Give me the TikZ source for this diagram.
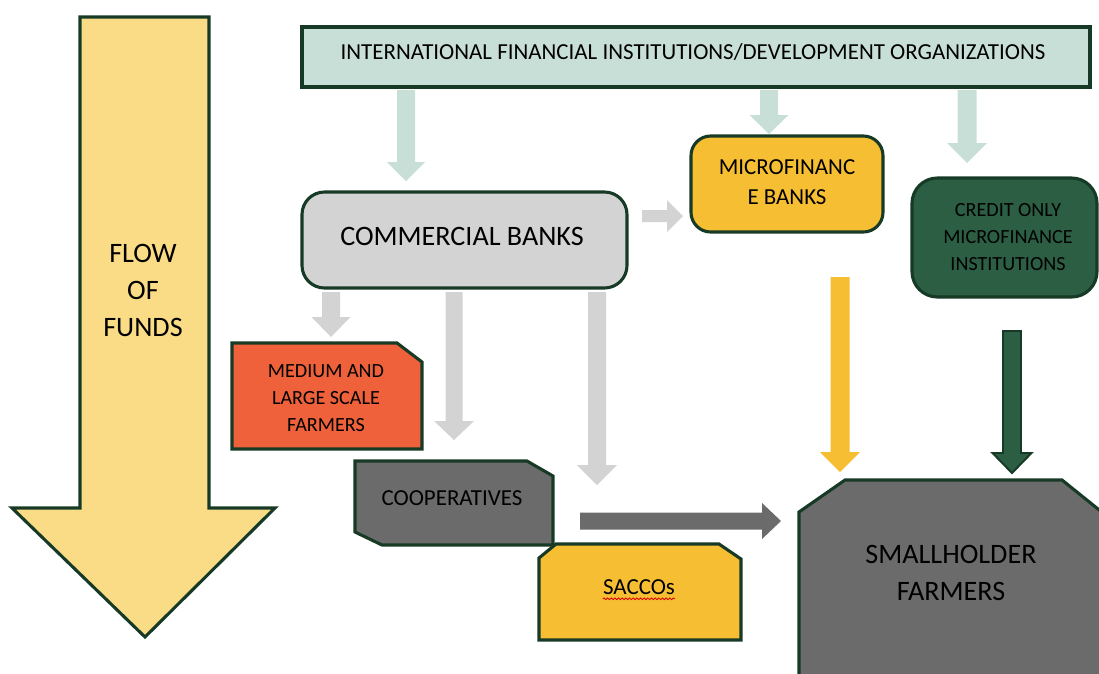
\documentclass[tikz,border=0pt]{standalone}
\usepackage{fontspec}
\setmainfont{Carlito}
\usetikzlibrary{calc,decorations.pathmorphing}

\definecolor{edge}{HTML}{173A26}
\definecolor{mint}{HTML}{C8DFD7}
\definecolor{lightgray}{HTML}{D3D3D3}
\definecolor{gold}{HTML}{F6BE33}
\definecolor{pale}{HTML}{FADC86}
\definecolor{forest}{HTML}{2B5E42}
\definecolor{slate}{HTML}{6B6B6B}
\definecolor{tomato}{HTML}{EE613B}

% block arrow pointing down: start, tip, shaft half-width, head half-width, head length, style
\newcommand{\vblock}[6]{%
  \path[#6] ($(#1)+(-#3,0)$) -- ($(#1)+(#3,0)$) -- ($(#2)+(#3,-#5)$) -- ($(#2)+(#4,-#5)$)
    -- (#2) -- ($(#2)+(-#4,-#5)$) -- ($(#2)+(-#3,-#5)$) -- cycle;}
% block arrow pointing right: start, tip, shaft half-width, head half-width, head length, style
\newcommand{\hblock}[6]{%
  \path[#6] ($(#1)+(0,-#3)$) -- ($(#2)+(-#5,-#3)$) -- ($(#2)+(-#5,-#4)$) -- (#2)
    -- ($(#2)+(-#5,#4)$) -- ($(#2)+(-#5,#3)$) -- ($(#1)+(0,#3)$) -- cycle;}

\begin{document}
\begin{tikzpicture}[x=0.025cm,y=-0.025cm,
  box/.style={draw=edge,line width=2.2pt},
  label/.style={inner sep=0pt,align=center,text=black},
  big/.style={font=\fontsize{20}{26.3}\selectfont},
  mid/.style={font=\fontsize{16.3}{21.3}\selectfont},
  small/.style={font=\fontsize{14.3}{19}\selectfont},
  arrowfill/.style={fill=#1,draw=none}]
\useasboundingbox (0,0) rectangle (1099,673);
\clip (0,0) rectangle (1099,673);

% flow of funds arrow
\path[box,fill=pale,line join=miter] (80,17) -- (209,17) -- (209,508) -- (275,508) -- (145,637)
  -- (12,508) -- (80,508) -- cycle;
\node[label,big] (flow) at (143,290) {FLOW\\OF\\FUNDS};

% institutions
\path[box,fill=mint] (302,27) rectangle (1090,87);
\node[label,mid] (ifi) at (693,52) {INTERNATIONAL FINANCIAL INSTITUTIONS/DEVELOPMENT ORGANIZATIONS};

\path[box,fill=lightgray,rounded corners=16] (302,192) rectangle (627,288);
\node[label,big] (cb) at (462,236) {COMMERCIAL BANKS};

\path[box,fill=gold,rounded corners=14] (691,136) rectangle (883,232);
\node[label,mid] (mfb) at (787,182) {MICROFINANC\\E BANKS};

\path[box,fill=forest,rounded corners=18] (912,178) rectangle (1097,297);
\node[label,small] (cmfi) at (1008,237) {CREDIT ONLY\\MICROFINANCE\\INSTITUTIONS};

% borrowers
\path[box,fill=tomato,line join=miter] (232,343) -- (397,343) -- (422,362) -- (422,449) -- (232,449) -- cycle;
\node[label,small] (mlf) at (326,398) {MEDIUM AND\\LARGE SCALE\\FARMERS};

\path[box,fill=slate,line join=miter] (355,461) -- (527,461) -- (553,476) -- (553,545) -- (382,545)
  -- (355,532) -- cycle;
\node[label,mid] (coop) at (452,498) {COOPERATIVES};

\path[box,fill=gold,line join=miter] (539,558) -- (556,544) -- (719,544) -- (741,559) -- (741,640)
  -- (539,640) -- cycle;
\node[label,mid] (sacco) at (639,587) {SACCOs};
\draw[red!85!black,line width=0.6pt,decorate,decoration={snake,amplitude=0.6pt,segment length=2.6pt}]
  ($(sacco.south west)+(0,4)$) -- ($(sacco.south east)+(0,4)$);

\path[box,fill=slate,line join=miter] (799,512) -- (845,480) -- (1062,480) -- (1108,517) -- (1108,700)
  -- (799,700) -- cycle;
\node[label,big] (shf) at (951,573) {SMALLHOLDER\\FARMERS};

% connector end points
\coordinate (a1s) at (406,90);  \coordinate (a1t) at (406,181);
\coordinate (a2s) at (769,90);  \coordinate (a2t) at (769,134);
\coordinate (a3s) at (967,90);  \coordinate (a3t) at (967,163);
\coordinate (b0s) at (642,216); \coordinate (b0t) at (683,216);
\coordinate (b1s) at (331,292); \coordinate (b1t) at (331,337);
\coordinate (b2s) at (454,292); \coordinate (b2t) at (454,440);
\coordinate (b3s) at (597,292); \coordinate (b3t) at (597,485);
\coordinate (ys)  at (840,277); \coordinate (yt)  at (840,472);
\coordinate (gs)  at (1012,331);\coordinate (gt)  at (1012,473);
\coordinate (cs)  at (580,521); \coordinate (ct)  at (781,521);

% flows from institutions
\vblock{a1s}{a1t}{9}{19}{19}{arrowfill=mint}
\vblock{a2s}{a2t}{9}{19.5}{19}{arrowfill=mint}
\vblock{a3s}{a3t}{9.5}{20}{20}{arrowfill=mint}

% flows from commercial banks
\hblock{b0s}{b0t}{6}{16}{16}{arrowfill=lightgray}
\vblock{b1s}{b1t}{9}{19.5}{20}{arrowfill=lightgray}
\vblock{b2s}{b2t}{8.5}{20}{19}{arrowfill=lightgray}
\vblock{b3s}{b3t}{9}{20}{20}{arrowfill=lightgray}

% flows to smallholder farmers
\vblock{ys}{yt}{9.5}{20}{20}{arrowfill=gold}
\vblock{gs}{gt}{9}{19.5}{20}{fill=forest,draw=edge,line width=1.4pt,line join=miter}
\hblock{cs}{ct}{8.5}{18}{19}{arrowfill=slate}
\end{tikzpicture}
\end{document}
